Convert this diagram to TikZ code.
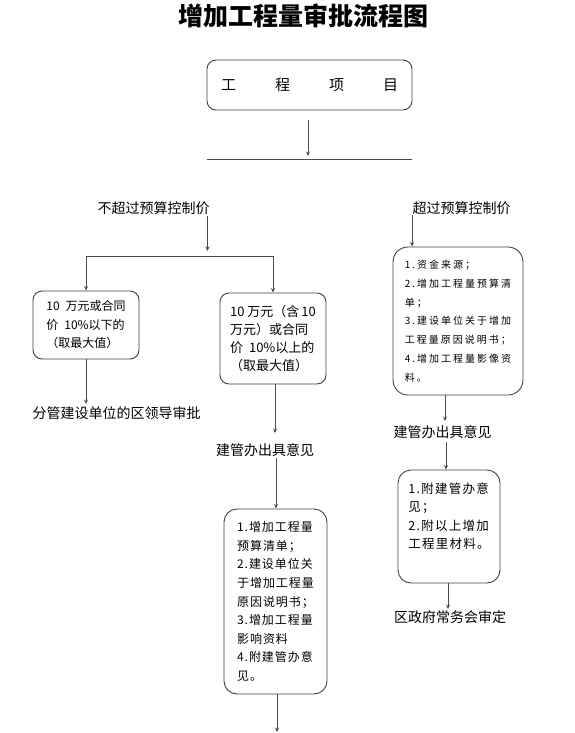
\documentclass[tikz,border=0pt]{standalone}
\usepackage{fontspec}
\setmainfont{Noto Sans CJK SC}
\newfontfamily\cjkwide[LetterSpace=20]{Noto Sans CJK SC}
\newfontfamily\cjkmid[LetterSpace=8]{Noto Sans CJK SC}
\newfontfamily\cjkloose[LetterSpace=10]{Noto Sans CJK SC}
\usetikzlibrary{positioning,calc,arrows.meta}

\begin{document}
\begin{tikzpicture}[x=1pt,y=-1pt,>={Stealth[length=4.5pt,width=4pt]}]
  \tikzset{
    stepbox/.style={
      draw=black!75,
      line width=0.9pt,
      rounded corners=9pt,
      align=left,
      inner sep=0pt
    },
    note/.style={inner sep=0pt,font=\fontsize{14}{16}\selectfont},
    flow/.style={draw=black!70,line width=0.9pt,->},
    bar/.style={draw=black!70,line width=0.9pt}
  }
  \useasboundingbox (0,0) rectangle (575,733);

  \node[font=\bfseries\fontsize{25}{28}\selectfont] (title) at (303.5,16) {增加工程量审批流程图};

  \node[stepbox,minimum width=205pt,minimum height=50pt,font=\fontsize{15}{18}\selectfont] (project) at (309.5,85) {工\hspace{39pt}程\hspace{39pt}项\hspace{39pt}目};

  \coordinate (projOut) at (308,120);
  \coordinate (barIn) at (308,156);
  \coordinate (barL) at (207,159);
  \coordinate (barR) at (412,159);

  \node[note] (under) at (153.5,208) {不超过预算控制价};
  \node[note] (over) at (461.5,208) {超过预算控制价};

  \coordinate (underOut) at (207.5,216);
  \coordinate (forkIn) at (207.5,251);
  \coordinate (forkL) at (86,256);
  \coordinate (forkR) at (273,256);

  \node[stepbox,minimum width=106pt,minimum height=68pt,font=\fontsize{12}{18.5}\selectfont] (lowbox) at (86,325) {10\hspace{6pt}万元或合同\\价\hspace{6pt}10\%以下的\\（取最大值）};

  \node[stepbox,minimum width=106pt,minimum height=91pt,font=\fontsize{13}{18}\selectfont] (highbox) at (273,338.5) {10\hspace{3pt}万元（含\hspace{2pt}10\\万元）或合同\\价\hspace{6pt}10\%以上的\\（取最大值）};

  \node[note] (leader) at (116.5,413) {分管建设单位的区领导审批};
  \coordinate (leaderIn) at (86,404);

  \node[note] (opinionL) at (265,450) {建管办出具意见};
  \coordinate (opinionLIn) at (275,433);
  \coordinate (opinionLOut) at (276,458);

  \node[stepbox,rounded corners=13pt,minimum width=103pt,minimum height=185pt,font=\cjkmid\fontsize{12}{18.6}\selectfont] (detailbox) at (275.5,601.5) {1.增加工程量\\预算清单；\\2.建设单位关\\于增加工程量\\原因说明书；\\3.增加工程量\\影响资料\\4.附建管办意\\见。};
  \coordinate (detailOut) at (277,732);

  \coordinate (overOut) at (412,215);
  \node[stepbox,rounded corners=15pt,minimum width=130pt,minimum height=148pt,font=\cjkwide\fontsize{10}{18.8}\selectfont] (listbox) at (458,321) {1.资金来源；\\2.增加工程量预算清\\单；\\3.建设单位关于增加\\工程量原因说明书；\\4.增加工程量影像资\\料。};

  \node[note] (opinionR) at (442.5,432) {建管办出具意见};
  \coordinate (opinionRIn) at (445,421);
  \coordinate (opinionROut) at (446,442);

  \node[stepbox,rounded corners=13pt,minimum width=102pt,minimum height=113pt,text depth=22pt,font=\cjkloose\fontsize{12.5}{18.5}\selectfont] (attachbox) at (449,526.5) {1.附建管办意\\见；\\2.附以上增加\\工程里材料。};

  \node[note] (council) at (450,617) {区政府常务会审定};
  \coordinate (councilIn) at (448,609);

  \draw[flow] (projOut) -- (barIn);
  \draw[bar] (barL) -- (barR);
  \draw[flow] (underOut) -- (forkIn);
  \draw[bar] (forkL) -- (forkR);
  \draw[flow] (forkL) -- (lowbox.north);
  \draw[flow] (forkR) -- (highbox.north);
  \draw[flow] (lowbox.south) -- (leaderIn);
  \draw[flow] (opinionLIn |- highbox.south) -- (opinionLIn);
  \draw[flow] (opinionLOut) -- (opinionLOut |- detailbox.north);
  \draw[flow] (detailOut |- detailbox.south) -- (detailOut);
  \draw[flow] (overOut) -- (overOut |- listbox.north);
  \draw[flow] (opinionRIn |- listbox.south) -- (opinionRIn);
  \draw[flow] (opinionROut) -- (opinionROut |- attachbox.north);
  \draw[flow] (councilIn |- attachbox.south) -- (councilIn);
\end{tikzpicture}
\end{document}
